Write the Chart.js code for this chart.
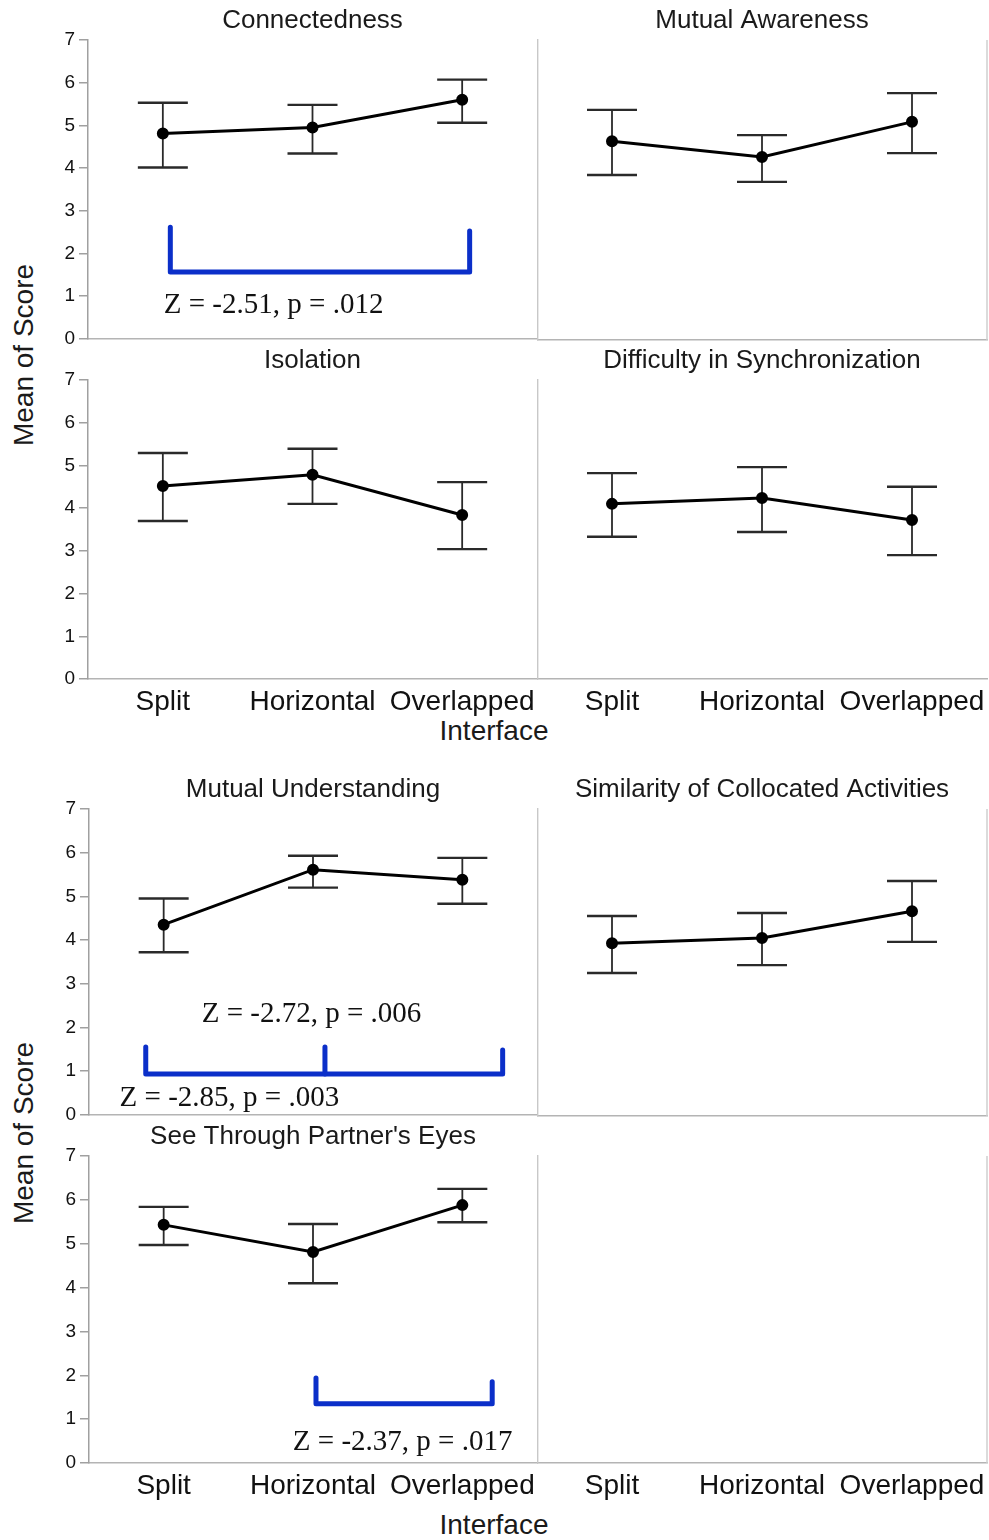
<!DOCTYPE html>
<html>
<head>
<meta charset="utf-8">
<script src="https://cdn.jsdelivr.net/npm/chart.js@4.4.1/dist/chart.umd.min.js"></script>
<style>
  body { margin: 0; background: #fff; width: 989px; height: 1540px; position: relative; overflow: hidden; }
  canvas { position: absolute; }
  .axis-title { position: absolute; font-family: "Liberation Sans", Arial, sans-serif; font-size: 28px; color: #1a1a1a; text-align: center; width: 300px; height: 32px; line-height: 32px; }
  .rot { transform: rotate(-90deg); }
</style>
</head>
<body>
<div class="axis-title rot" style="left:-126px; top:339px;">Mean of Score</div>
<div class="axis-title" style="left:344px; top:715px;">Interface</div>
<div class="axis-title rot" style="left:-126px; top:1117px;">Mean of Score</div>
<div class="axis-title" style="left:344px; top:1509px;">Interface</div>
<script>
// categories and tick labels
const interfaces = ['Split', 'Horizontal', 'Overlapped'];
const scoreTicks = [0, 1, 2, 3, 4, 5, 6, 7];

// means and error bar ends
const connectedMean = [4.81, 4.95, 5.60];
const connectedLow  = [4.01, 4.34, 5.06];
const connectedHigh = [5.53, 5.48, 6.07];

const awarenessMean = [4.64, 4.27, 5.09];
const awarenessLow  = [3.85, 3.69, 4.36];
const awarenessHigh = [5.37, 4.78, 5.76];

const isolationMean = [4.52, 4.78, 3.84];
const isolationLow  = [3.70, 4.10, 3.04];
const isolationHigh = [5.29, 5.39, 4.61];

const syncMean = [4.10, 4.24, 3.72];
const syncLow  = [3.33, 3.44, 2.90];
const syncHigh = [4.82, 4.96, 4.50];

const understandMean = [4.35, 5.61, 5.38];
const understandLow  = [3.72, 5.20, 4.83];
const understandHigh = [4.95, 5.93, 5.88];

const similarMean = [3.94, 4.06, 4.67];
const similarLow  = [3.26, 3.44, 3.97];
const similarHigh = [4.56, 4.63, 5.36];

const eyesMean = [5.43, 4.81, 5.88];
const eyesLow  = [4.97, 4.10, 5.49];
const eyesHigh = [5.84, 5.45, 6.25];

// significance brackets (x in category index, y in score)
const connectedBrackets = [[[0.05, 2.61], [0.05, 1.56], [2.05, 1.56], [2.05, 2.52]]];
const connectedNotes = [{ text: 'Z = -2.51, p = .012', x: 0.74, y: 0.79 }];

const understandBrackets = [
  [[-0.12, 1.55], [-0.12, 0.93], [2.27, 0.93], [2.27, 1.48]],
  [[1.08, 1.55], [1.08, 0.93]]
];
const understandNotes = [
  { text: 'Z = -2.72, p = .006', x: 0.99, y: 2.30 },
  { text: 'Z = -2.85, p = .003', x: 0.44, y: 0.36 }
];

const eyesBrackets = [[[1.02, 1.94], [1.02, 1.35], [2.2, 1.35], [2.2, 1.85]]];
const eyesNotes = [{ text: 'Z = -2.37, p = .017', x: 1.60, y: 0.46 }];

const panels = [
  { title: 'Connectedness', mean: connectedMean, low: connectedLow, high: connectedHigh,
    box: [88, 40, 537, 340], yAxis: true, xLabels: false, brackets: connectedBrackets, notes: connectedNotes },
  { title: 'Mutual Awareness', mean: awarenessMean, low: awarenessLow, high: awarenessHigh,
    box: [537, 40, 987, 340], yAxis: false, xLabels: false, rightEdge: true },
  { title: 'Isolation', mean: isolationMean, low: isolationLow, high: isolationHigh,
    box: [88, 380, 537, 679], yAxis: true, xLabels: true },
  { title: 'Difficulty in Synchronization', mean: syncMean, low: syncLow, high: syncHigh,
    box: [537, 380, 987, 679], yAxis: false, xLabels: true },
  { title: 'Mutual Understanding', mean: understandMean, low: understandLow, high: understandHigh,
    box: [89, 809, 537, 1116], yAxis: true, xLabels: false, brackets: understandBrackets, notes: understandNotes },
  { title: 'Similarity of Collocated Activities', mean: similarMean, low: similarLow, high: similarHigh,
    box: [537, 809, 987, 1116], yAxis: false, xLabels: false, rightEdge: true },
  { title: "See Through Partner's Eyes", mean: eyesMean, low: eyesLow, high: eyesHigh,
    box: [89, 1156, 537, 1463], yAxis: true, xLabels: true, brackets: eyesBrackets, notes: eyesNotes },
  { title: '', box: [537, 1156, 987, 1463], yAxis: false, xLabels: true, rightEdge: true }
];

const sans = '"Liberation Sans", Arial, sans-serif';

const errorBars = {
  id: 'errorBars',
  beforeDatasetsDraw(chart, args, opts) {
    const p = opts.panel;
    if (!p.mean) return;
    const { ctx, scales: { x, y } } = chart;
    ctx.save();
    ctx.strokeStyle = '#2a2a2a';
    p.mean.forEach((m, i) => {
      const px = x.getPixelForValue(i);
      const lo = y.getPixelForValue(p.low[i]);
      const hi = y.getPixelForValue(p.high[i]);
      ctx.lineWidth = 1.8;
      ctx.beginPath();
      ctx.moveTo(px, lo); ctx.lineTo(px, hi);
      ctx.stroke();
      ctx.lineWidth = 2.4;
      ctx.beginPath();
      ctx.moveTo(px - 25, lo); ctx.lineTo(px + 25, lo);
      ctx.moveTo(px - 25, hi); ctx.lineTo(px + 25, hi);
      ctx.stroke();
    });
    ctx.restore();
  }
};

const panelDecor = {
  id: 'panelDecor',
  afterDraw(chart, args, opts) {
    const p = opts.panel;
    const { ctx, chartArea: a, scales: { x, y } } = chart;
    ctx.save();
    ctx.fillStyle = '#1a1a1a';
    ctx.font = '26px ' + sans;
    ctx.textAlign = 'center';
    ctx.textBaseline = 'middle';
    if (p.title) ctx.fillText(p.title, (a.left + a.right) / 2, a.top - 19);

    if (p.rightEdge) {
      ctx.strokeStyle = '#cfcfcf';
      ctx.lineWidth = 1.5;
      ctx.beginPath();
      ctx.moveTo(a.right, a.top);
      ctx.lineTo(a.right, a.bottom);
      ctx.stroke();
    }

    ctx.strokeStyle = '#0b2fc9';
    ctx.lineWidth = 5;
    ctx.lineCap = 'round';
    ctx.lineJoin = 'round';
    (p.brackets || []).forEach(path => {
      ctx.beginPath();
      path.forEach(([bx, by], k) => {
        const px = x.getPixelForValue(bx), py = y.getPixelForValue(by);
        if (k === 0) ctx.moveTo(px, py); else ctx.lineTo(px, py);
      });
      ctx.stroke();
    });

    ctx.fillStyle = '#111';
    ctx.font = '29px "Liberation Serif", "Times New Roman", serif';
    (p.notes || []).forEach(n => {
      ctx.fillText(n.text, x.getPixelForValue(n.x), y.getPixelForValue(n.y));
    });
    ctx.restore();
  }
};

panels.forEach(p => {
  const [L, T, R, B] = p.box;
  const padL = p.yAxis ? 60 : 0;
  const padT = 40, padR = 2;
  const padB = p.xLabels ? 52 : 14;

  const cv = document.createElement('canvas');
  cv.width = R - L + padL + padR;
  cv.height = B - T + padT + padB;
  cv.style.left = (L - padL) + 'px';
  cv.style.top = (T - padT) + 'px';
  document.body.appendChild(cv);

  const datasets = p.mean ? [{
    data: p.mean.map((v, i) => ({ x: i, y: v })),
    borderColor: '#000',
    borderWidth: 3,
    pointRadius: 4.5,
    pointBackgroundColor: '#000',
    pointBorderColor: '#000',
    tension: 0
  }] : [];

  new Chart(cv, {
    type: 'line',
    data: { datasets },
    options: {
      responsive: false,
      animation: false,
      devicePixelRatio: 1,
      layout: { autoPadding: false, padding: { top: padT, right: padR, left: 0, bottom: 0 } },
      plugins: {
        legend: { display: false },
        tooltip: { enabled: false },
        errorBars: { panel: p },
        panelDecor: { panel: p }
      },
      scales: {
        x: {
          type: 'linear',
          min: -0.5,
          max: 2.5,
          afterBuildTicks: s => { s.ticks = interfaces.map((_, i) => ({ value: i })); },
          afterFit: s => { s.height = padB; s.paddingLeft = 0; s.paddingRight = 0; },
          grid: { display: false, drawTicks: false },
          border: { display: true, color: '#b4b4b4', width: 1.5 },
          ticks: {
            display: p.xLabels,
            padding: 6,
            maxRotation: 0,
            autoSkip: false,
            color: '#111',
            font: { family: sans, size: 28 },
            callback: v => interfaces[v]
          }
        },
        y: {
          min: 0,
          max: 7,
          afterBuildTicks: s => { s.ticks = scoreTicks.map(v => ({ value: v })); },
          afterFit: s => { s.width = padL; },
          grid: { display: p.yAxis, drawOnChartArea: false, tickLength: 9, color: '#a0a0a0', lineWidth: 1.5 },
          border: p.yAxis ? { display: true, color: '#a0a0a0', width: 1.5 } : { display: true, color: '#c8c8c8', width: 2.4 },
          ticks: {
            display: p.yAxis,
            padding: 4,
            color: '#111',
            font: { family: sans, size: 19 }
          }
        }
      }
    },
    plugins: [errorBars, panelDecor]
  });
});
</script>
</body>
</html>
